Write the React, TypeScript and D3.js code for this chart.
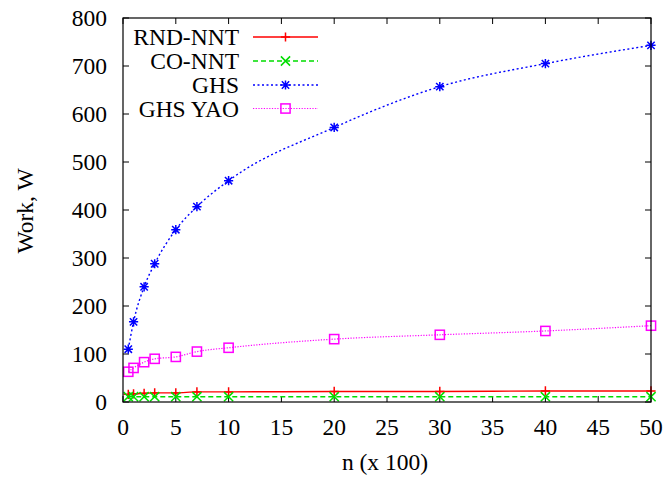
import React from "react";
import * as d3 from "d3";

const nValues = [0.5, 1, 2, 3, 5, 7, 10, 20, 30, 40, 50];
const rndNnt = [16, 17, 18, 19, 19, 21, 21, 22, 22, 23, 23];
const coNnt = [11, 11, 11, 11, 11, 11, 11, 11, 11, 11, 11];
const ghs = [110, 167, 240, 288, 359, 407, 461, 572, 657, 705, 743];
const ghsYao = [63, 71, 83, 90, 94, 105, 113, 131, 140, 148, 159];
const xTicks = [0, 5, 10, 15, 20, 25, 30, 35, 40, 45, 50];
const yTicks = [0, 100, 200, 300, 400, 500, 600, 700, 800];

const W = 669;
const H = 479;
const left = 123;
const right = 651;
const top = 18;
const bottom = 402;
const font = "Liberation Serif";
const fs = "23.5px";

type Marker = "plus" | "cross" | "star" | "square";

const series: { name: string; values: number[]; color: string; dash: string; width: number; marker: Marker }[] = [
  { name: "RND-NNT", values: rndNnt, color: "#ff0000", dash: "", width: 1.4, marker: "plus" },
  { name: "CO-NNT", values: coNnt, color: "#00dd00", dash: "5,3", width: 1.4, marker: "cross" },
  { name: "GHS", values: ghs, color: "#0000ff", dash: "2,2.5", width: 1.4, marker: "star" },
  { name: "GHS YAO", values: ghsYao, color: "#ff00ff", dash: "1.2,1.5", width: 1.2, marker: "square" },
];

function MarkerShape({ type, x, y, color }: { type: Marker; x: number; y: number; color: string }) {
  const s = 4.6;
  const common = { stroke: color, strokeWidth: 1.5, fill: "none" };
  if (type === "plus") {
    return <path d={`M${x - s},${y}H${x + s}M${x},${y - s}V${y + s}`} {...common} />;
  }
  if (type === "cross") {
    return <path d={`M${x - s},${y - s}L${x + s},${y + s}M${x - s},${y + s}L${x + s},${y - s}`} {...common} />;
  }
  if (type === "star") {
    return (
      <path
        d={`M${x - s},${y}H${x + s}M${x},${y - s}V${y + s}M${x - s * 0.8},${y - s * 0.8}L${x + s * 0.8},${y + s * 0.8}M${x - s * 0.8},${y + s * 0.8}L${x + s * 0.8},${y - s * 0.8}`}
        {...common}
      />
    );
  }
  return <rect x={x - s} y={y - s} width={2 * s} height={2 * s} {...common} />;
}

export default function App() {
  const x = d3.scaleLinear().domain([0, 50]).range([left, right]);
  const y = d3.scaleLinear().domain([0, 800]).range([bottom, top]);
  const line = d3
    .line<number>()
    .x((_, i) => x(nValues[i]))
    .y((d) => y(d))
    .curve(d3.curveMonotoneX);

  const legendRows = [37, 61, 85, 108.5];
  const textStyle = { fontFamily: font, fontSize: fs };

  return (
    <svg width={W} height={H} style={{ position: "absolute", left: 0, top: 0, background: "#fff" }}>
      <rect width={W} height={H} fill="#fff" />
      {/* tick marks, mirrored on all four sides */}
      {xTicks.map((t) => (
        <g key={"x" + t}>
          <line x1={x(t)} x2={x(t)} y1={bottom} y2={bottom - 6} stroke="#000" />
          <line x1={x(t)} x2={x(t)} y1={top} y2={top + 6} stroke="#000" />
          <text x={x(t)} y={435} textAnchor="middle" style={textStyle}>
            {t}
          </text>
        </g>
      ))}
      {yTicks.map((t) => (
        <g key={"y" + t}>
          <line x1={left} x2={left + 6} y1={y(t)} y2={y(t)} stroke="#000" />
          <line x1={right} x2={right - 6} y1={y(t)} y2={y(t)} stroke="#000" />
          <text x={107} y={y(t) + 7.5} textAnchor="end" style={textStyle}>
            {t}
          </text>
        </g>
      ))}
      {/* data series */}
      {series.map((s) => (
        <g key={s.name}>
          <path d={line(s.values) || ""} fill="none" stroke={s.color} strokeWidth={s.width} strokeDasharray={s.dash} />
          {s.values.map((v, i) => (
            <MarkerShape key={i} type={s.marker} x={x(nValues[i])} y={y(v)} color={s.color} />
          ))}
        </g>
      ))}
      {/* key */}
      {series.map((s, i) => (
        <g key={"leg" + s.name}>
          <text x={239} y={legendRows[i] + 8} textAnchor="end" style={textStyle}>
            {s.name}
          </text>
          <line x1={253} x2={318} y1={legendRows[i]} y2={legendRows[i]} stroke={s.color} strokeWidth={s.width} strokeDasharray={s.dash} />
          <MarkerShape type={s.marker} x={285.5} y={legendRows[i]} color={s.color} />
        </g>
      ))}
      <rect x={left} y={top} width={right - left} height={bottom - top} fill="none" stroke="#000" strokeWidth={1.2} />
      <text x={385} y={470} textAnchor="middle" style={textStyle}>
        n (x 100)
      </text>
      <text transform={`translate(33,211) rotate(-90)`} textAnchor="middle" style={textStyle}>
        Work, W
      </text>
    </svg>
  );
}
